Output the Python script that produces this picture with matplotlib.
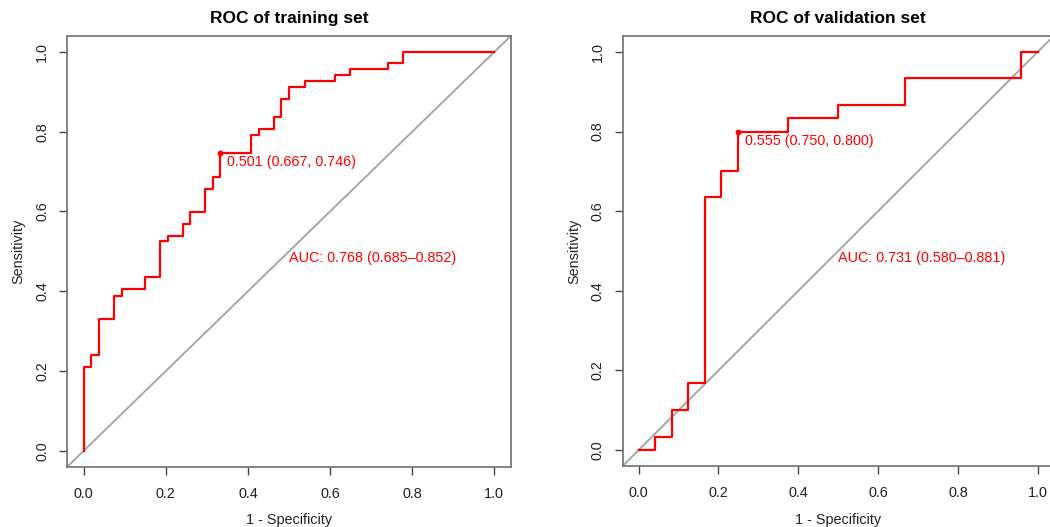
import matplotlib.pyplot as plt

plt.rcParams['font.family'] = ['Liberation Sans', 'DejaVu Sans']

# training set ROC (1 - specificity, sensitivity) corner points
train_fpr = [0.0, 0.0, 0.018, 0.038, 0.073, 0.093, 0.149, 0.185, 0.205, 0.241, 0.260,
             0.296, 0.316, 0.333, 0.407, 0.426, 0.463, 0.481, 0.500, 0.538, 0.612,
             0.648, 0.741, 0.778, 1.0]
train_tpr = [0.0, 0.210, 0.240, 0.331, 0.389, 0.405, 0.435, 0.525, 0.539, 0.569, 0.598,
             0.657, 0.687, 0.746, 0.791, 0.807, 0.836, 0.883, 0.911, 0.927, 0.942,
             0.956, 0.972, 1.0, 1.0]
train_best = (0.333, 0.746)
train_best_label = "0.501 (0.667, 0.746)"
train_auc_label = "AUC: 0.768 (0.685\u20130.852)"

# validation set ROC
val_fpr = [0.0, 0.040, 0.083, 0.124, 0.166, 0.207, 0.250, 0.375, 0.500, 0.667, 0.958, 1.0]
val_tpr = [0.0, 0.034, 0.101, 0.168, 0.635, 0.702, 0.800, 0.834, 0.867, 0.934, 1.0, 1.0]
val_best = (0.250, 0.800)
val_best_label = "0.555 (0.750, 0.800)"
val_auc_label = "AUC: 0.731 (0.580\u20130.881)"

ticks = [0.0, 0.2, 0.4, 0.6, 0.8, 1.0]
tick_labels = ["0.0", "0.2", "0.4", "0.6", "0.8", "1.0"]

fig = plt.figure(figsize=(10.5, 5.27), dpi=100)
ax1 = fig.add_axes([0.0641, 0.1144, 0.4223, 0.8173])
ax2 = fig.add_axes([0.5930, 0.1157, 0.4105, 0.8160])


def draw_roc(ax, fpr, tpr, best, best_label, auc_label, title):
    ax.axline((0, 0), (1, 1), color="#a6a6a6", lw=1.4, zorder=1)
    ax.plot(fpr, tpr, drawstyle="steps-post", color="red", lw=1.6, zorder=2)
    ax.plot(*best, "o", color="red", ms=3.2, zorder=3)
    ax.annotate(best_label, xy=best, xytext=(7, -9), textcoords="offset pixels",
                ha="left", va="center", color="red", fontsize=10.4)
    ax.text(0.5, 0.5, auc_label, ha="left", va="top", color="red", fontsize=10.4)
    ax.set_xlim(-0.04, 1.04)
    ax.set_ylim(-0.04, 1.04)
    ax.set_xticks(ticks)
    ax.set_xticklabels(tick_labels)
    ax.set_yticks(ticks)
    ax.set_yticklabels(tick_labels, rotation=90, va="center")
    ax.tick_params(length=5.5, width=1, color="#444444", labelsize=10.4,
                   labelcolor="#222222", pad=9)
    ax.tick_params(axis="y", pad=7.5)
    for s in ax.spines.values():
        s.set_color("#707070")
        s.set_linewidth(1.2)
    ax.set_xlabel("1 - Specificity", fontsize=10.4, color="#222222", labelpad=9)
    ax.set_ylabel("Sensitivity", fontsize=10.4, color="#222222", labelpad=7)
    ax.set_title(title, fontsize=12.5, fontweight="bold", pad=9)


draw_roc(ax1, train_fpr, train_tpr, train_best, train_best_label, train_auc_label,
         "ROC of training set")
draw_roc(ax2, val_fpr, val_tpr, val_best, val_best_label, val_auc_label,
         "ROC of validation set")

fig.savefig("out.png", dpi=100)
